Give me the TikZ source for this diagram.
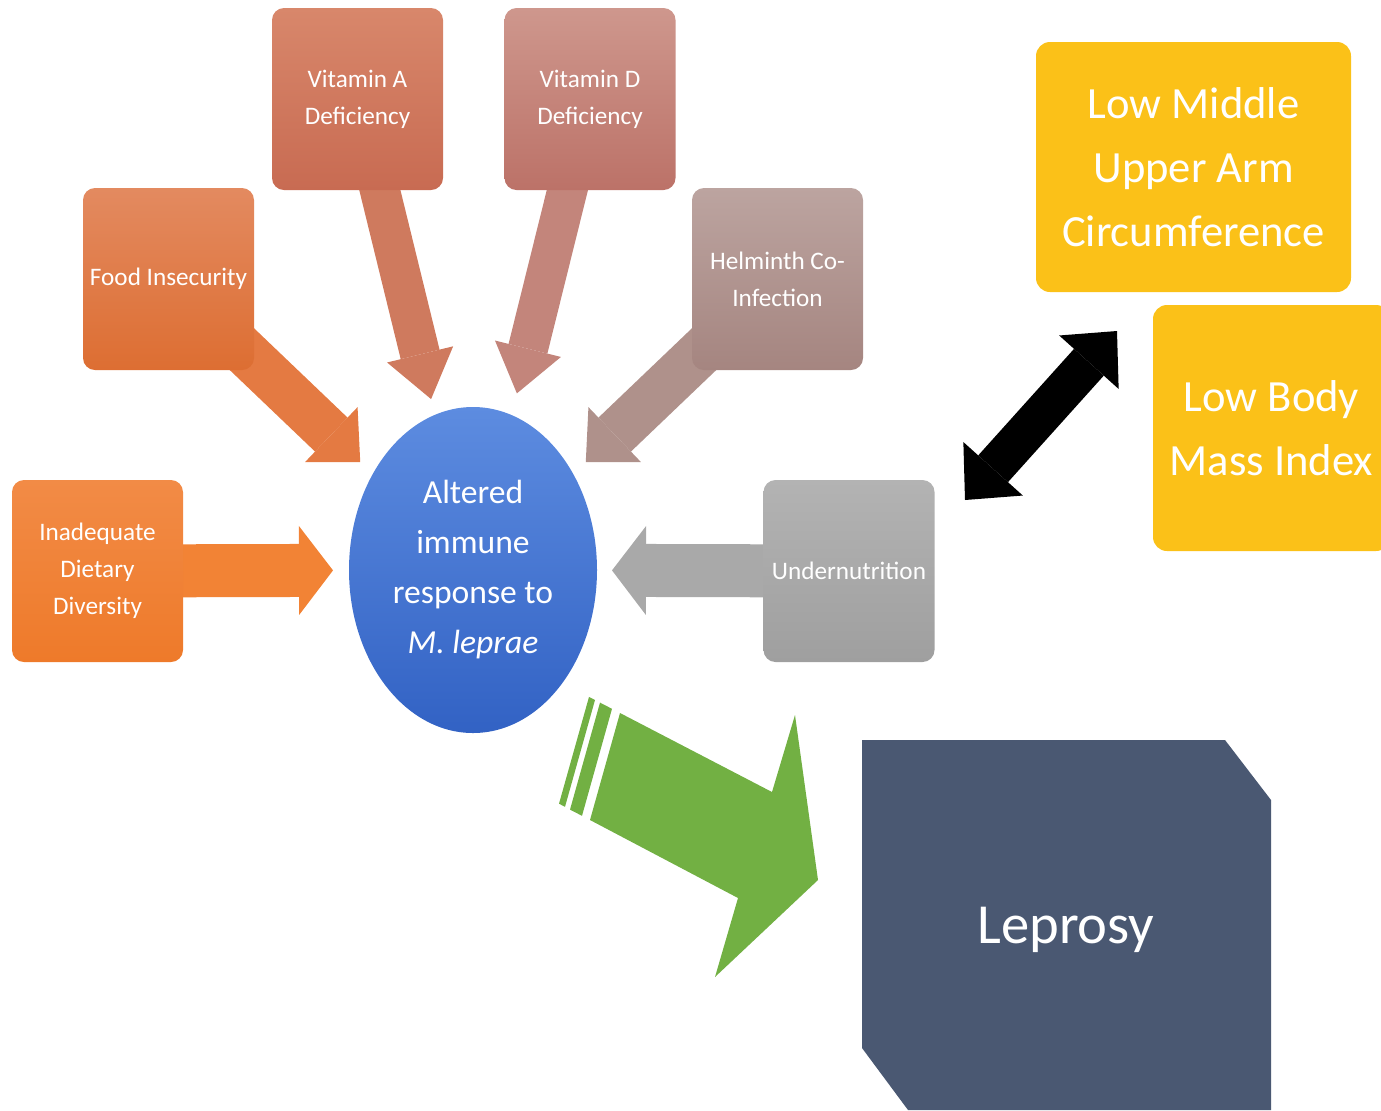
\documentclass[tikz,border=0pt]{standalone}
\usepackage{fontspec}
\setmainfont{Carlito}
\usetikzlibrary{arrows.meta,shapes.geometric}
\pgfdeclarelayer{back}
\pgfsetlayers{back,main}

\definecolor{dietTop}{HTML}{F28B46}
\definecolor{dietBot}{HTML}{EE7A2A}
\definecolor{dietArr}{HTML}{F28335}
\definecolor{foodTop}{HTML}{E38A60}
\definecolor{foodBot}{HTML}{DD6E32}
\definecolor{foodArr}{HTML}{E47A42}
\definecolor{vitaTop}{HTML}{D8876B}
\definecolor{vitaBot}{HTML}{C86B52}
\definecolor{vitaArr}{HTML}{CF7A5E}
\definecolor{vitdTop}{HTML}{CE978D}
\definecolor{vitdBot}{HTML}{BC7268}
\definecolor{vitdArr}{HTML}{C3857B}
\definecolor{helmTop}{HTML}{BCA4A0}
\definecolor{helmBot}{HTML}{A58580}
\definecolor{helmArr}{HTML}{AF918B}
\definecolor{underTop}{HTML}{B3B3B3}
\definecolor{underBot}{HTML}{9F9F9F}
\definecolor{underArr}{HTML}{A9A9A9}
\definecolor{immTop}{HTML}{5D8CE0}
\definecolor{immBot}{HTML}{3262C4}
\definecolor{anthroYellow}{HTML}{FBC118}
\definecolor{lepGreen}{HTML}{72B043}
\definecolor{lepSlate}{HTML}{4A5872}

\begin{document}
\begin{tikzpicture}[x=0.5pt,y=-0.5pt]
			\tikzstyle{factor box}=[rectangle,rounded corners=6pt,minimum width=85.5pt,minimum height=91pt,
				inner sep=2pt,text=white,align=center,font=\fontsize{12.6}{18.5}\selectfont]
			\tikzstyle{big box}=[rectangle,rounded corners=7pt,fill=anthroYellow,inner sep=2pt,
				text=white,align=center,font=\fontsize{22.3}{32}\selectfont]
			\tikzstyle{wide arrow}=[line width=26.5pt,-{Triangle[length=17pt,width=44.5pt,line width=0pt]}]
			\tikzstyle{mid arrow}=[line width=23.5pt,-{Triangle[length=20pt,width=38pt,line width=0pt]}]
			\tikzstyle{slim arrow}=[line width=20pt,-{Triangle[length=23pt,width=34pt,line width=0pt]}]
			\useasboundingbox (0,0) rectangle (1381,1110);

			\node[ellipse,minimum width=124pt,minimum height=163pt,inner sep=0pt,
				top color=immTop,bottom color=immBot,text=white,align=center,
				font=\fontsize{16.8}{25}\selectfont] (imm) at (473,570)
				{Altered\\immune\\response to\\\textit{M. leprae}};

			\node[factor box,top color=dietTop,bottom color=dietBot] (diet) at (97.5,571) {Inadequate\\Dietary\\Diversity};
			\node[factor box,top color=foodTop,bottom color=foodBot] (food) at (168.5,279) {Food Insecurity};
			\node[factor box,top color=vitaTop,bottom color=vitaBot] (vita) at (357.5,99) {Vitamin A\\Deficiency};
			\node[factor box,top color=vitdTop,bottom color=vitdBot] (vitd) at (590,99) {Vitamin D\\Deficiency};
			\node[factor box,top color=helmTop,bottom color=helmBot] (helm) at (777.5,279) {Helminth Co-\\Infection};
			\node[factor box,top color=underTop,bottom color=underBot] (under) at (849,571) {Undernutrition};

			\node[big box,minimum width=157.5pt,minimum height=125pt] (muac) at (1193.5,167) {Low Middle\\Upper Arm\\Circumference};
			\node[big box,minimum width=118.5pt,minimum height=123pt] (bmi) at (1271.5,428) {Low Body\\Mass Index};

			% arrows into the immune response
			\begin{pgfonlayer}{back}
				\draw[wide arrow,dietArr,shorten >=70pt] (diet.center) -- (imm.center);
				\draw[mid arrow,foodArr,shorten >=78pt] (food.center) -- (imm.center);
				\draw[slim arrow,vitaArr,shorten >=88pt] (vita.center) -- (imm.center);
				\draw[slim arrow,vitdArr,shorten >=91pt] (vitd.center) -- (imm.center);
				\draw[mid arrow,helmArr,shorten >=78pt] (helm.center) -- (imm.center);
				\draw[wide arrow,underArr,shorten >=69.5pt] (under.center) -- (imm.center);
			\end{pgfonlayer}

			% two-way link to the measures
			\coordinate (linkLow) at (965,500);
			\coordinate (linkHigh) at (1117,331);
			\draw[black,line width=20pt,{Triangle[length=21pt,width=40pt,line width=0pt]}-{Triangle[length=21pt,width=40pt,line width=0pt]}]
				(linkLow) -- (linkHigh);

			% outcome
			\fill[lepSlate] (862,740) -- (1225,740) -- (1271,800) -- (1271,1110) -- (908,1110) -- (862,1048) -- cycle;
			\node[text=white,font=\fontsize{28.3}{34}\selectfont] (lep) at (1066,930) {Leprosy};

			% striped arrow towards the outcome
			\fill[lepGreen] (620,713) -- (772,792) -- (795,715) -- (818,880) -- (715,977) -- (738,898) -- (590,820) -- cycle;
			\fill[lepGreen] (600,702.6) -- (612,708.8) -- (582,815.8) -- (570,809.6) -- cycle;
			\fill[lepGreen] (589,696.9) -- (595,700) -- (565,806.8) -- (559,803.7) -- cycle;
		\end{tikzpicture}
\end{document}
